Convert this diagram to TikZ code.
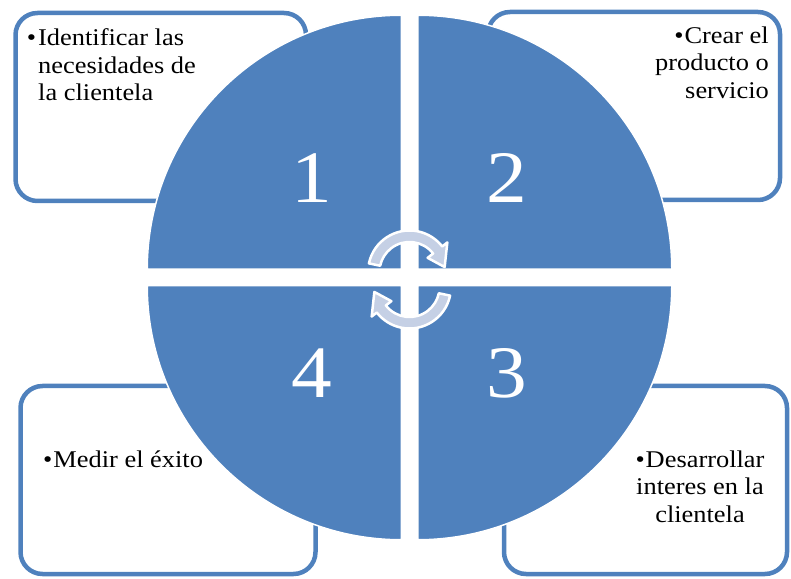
\documentclass[tikz,border=0pt]{standalone}
\usepackage{fontspec}
\setmainfont{Liberation Serif}[FakeStretch=1.1]
\usetikzlibrary{positioning}
\definecolor{cycblue}{HTML}{4F81BD}
\definecolor{arrfill}{HTML}{C5D0E5}

\begin{document}
\begin{tikzpicture}[x=1pt, y=1pt,
  panel/.style={draw=cycblue, line width=4.5pt, rounded corners=22pt, fill=white, inner sep=0pt},
  txt/.style={font=\fontsize{24}{27.5}\selectfont, inner sep=0pt},
  num/.style={font=\fontsize{74}{80}\selectfont, text=white, inner sep=0pt},
  cyc/.style={fill=arrfill, draw=white, line width=2.5pt, line join=round}]
  \useasboundingbox (0,0) rectangle (791,578);
  \node[panel, minimum width=290.5pt, minimum height=188pt] (box1) at (160.75,471) {};
  \node[panel, minimum width=292pt, minimum height=188pt] (box2) at (634,472) {};
  \node[panel, minimum width=283pt, minimum height=188pt] (box3) at (645.5,98) {};
  \node[panel, minimum width=295pt, minimum height=188pt] (box4) at (168,98) {};
  \foreach \a/\cx/\cy in {90/401.25/308.75, 0/417.75/308.75, -90/417.75/292.25, 180/401.25/292.25}
    \filldraw[fill=cycblue, draw=white, line width=1.5pt]
      (\cx,\cy) -- ++(\a:254) arc[start angle=\a, delta angle=90, radius=254pt] -- cycle;
  \foreach \n/\x/\y in {1/312/375, 2/507/375, 3/506.5/180, 4/311.5/180}
    \node[num, anchor=base] (n\n) at (\x,\y) {\n};
  \begin{scope}[shift={(409.5,306)}]
    \draw[cyc] (168:41.5) arc[start angle=168, end angle=38, radius=41.5pt] -- (38:48)
      -- (8:35.5) -- (38:23) -- (38:30) arc[start angle=38, end angle=168, radius=30pt] -- cycle;
  \end{scope}
  \begin{scope}[shift={(409.5,291)}]
    \draw[cyc] (-12:41.5) arc[start angle=-12, end angle=-142, radius=41.5pt] -- (-142:48)
      -- (-172:35.5) -- (-142:23) -- (-142:30) arc[start angle=-142, end angle=-12, radius=30pt] -- cycle;
  \end{scope}
  \node[txt, anchor=north west, align=left] (t1) at (38,549.5)
    {\llap{\textbullet\kern2pt}Identificar las\\necesidades de\\la clientela};
  \node[txt, anchor=north east, align=right] (t2) at (769,551.4)
    {\textbullet\kern1pt Crear el\\producto o\\servicio};
  \node[txt, anchor=north, align=center] (t3) at (700,127.4)
    {\textbullet\kern1pt Desarrollar\\interes en la\\clientela};
  \node[txt, anchor=base west] (t4) at (43,111) {\textbullet\kern1pt Medir el éxito};
\end{tikzpicture}
\end{document}
